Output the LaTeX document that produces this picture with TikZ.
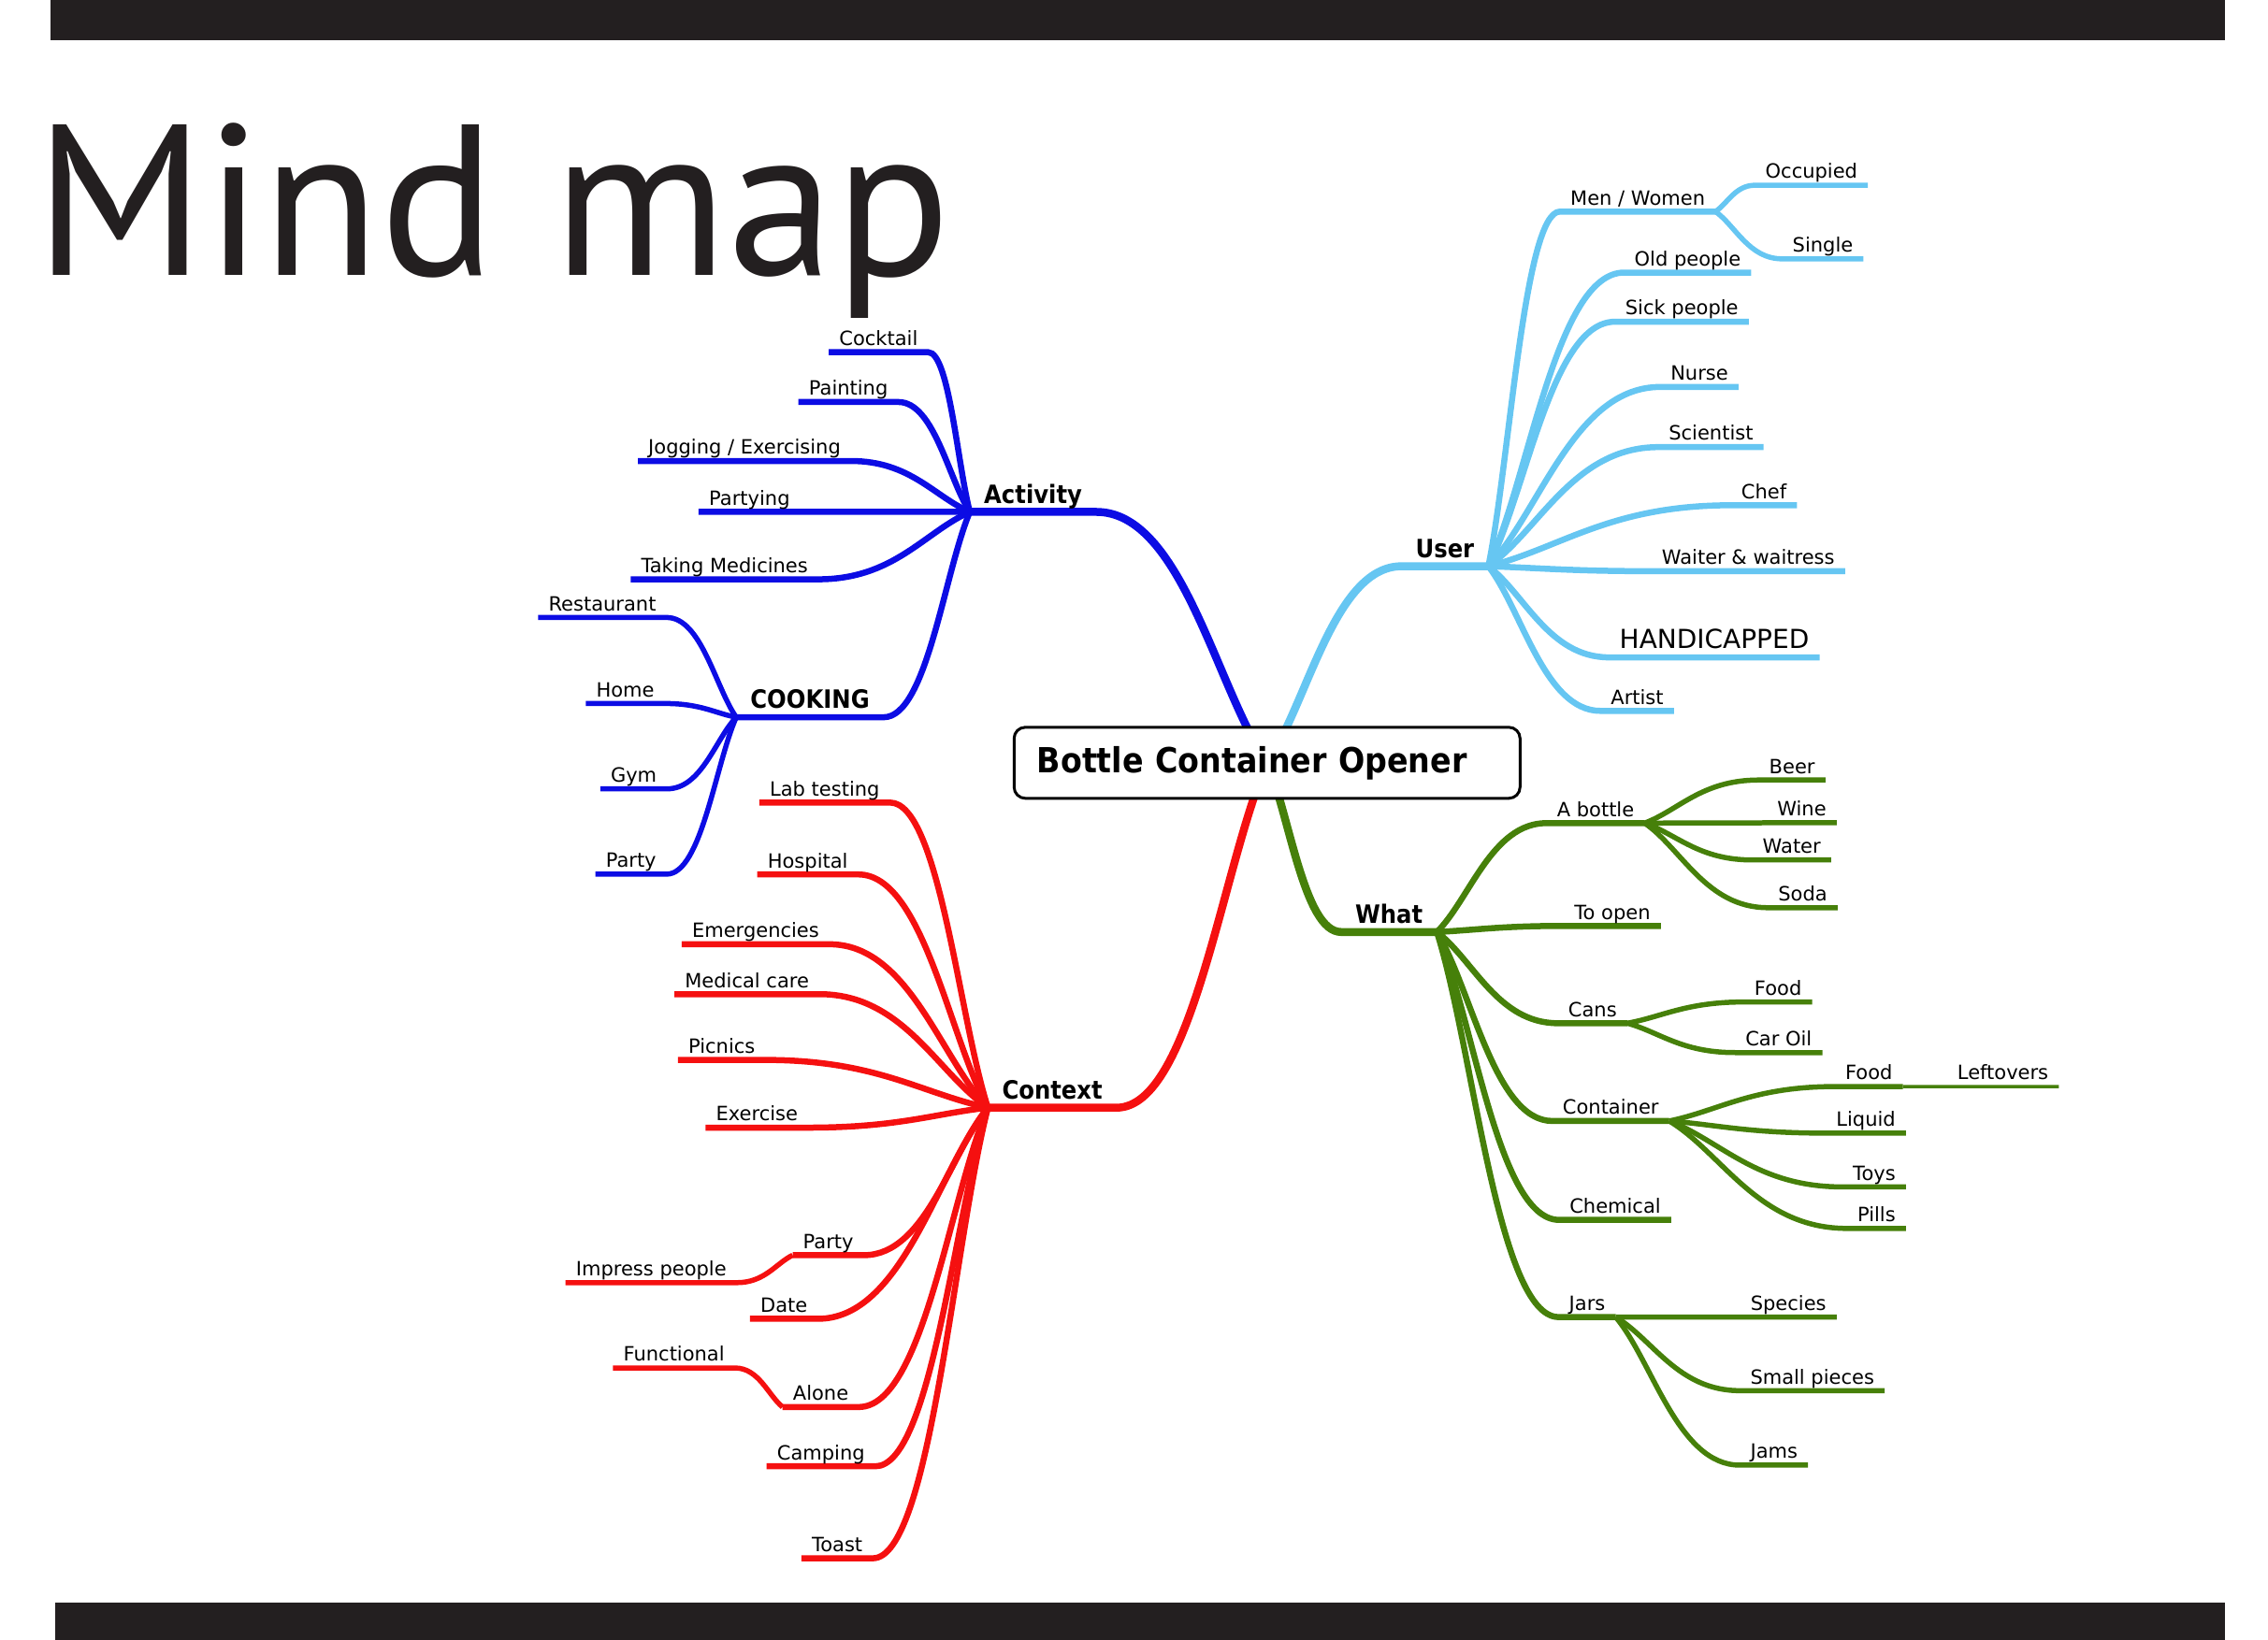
\documentclass[tikz,border=0pt]{standalone}
\usepackage{fontspec}
\setmainfont{DejaVu Sans}
\newfontfamily\hubfont{DejaVu Sans}[FakeStretch=0.9]
\newfontfamily\titlefont{PT Sans}
\usetikzlibrary{calc, backgrounds}

\definecolor{actblue}{RGB}{12,12,228}
\definecolor{ctxred}{RGB}{245,16,16}
\definecolor{userblue}{RGB}{102,198,242}
\definecolor{whatgreen}{RGB}{70,128,10}
\definecolor{barblack}{RGB}{35,31,32}

\begin{document}
\begin{tikzpicture}[
  x=1.5466pt, y=-1.5466pt,
  mainbox/.style={draw, line width=3pt, rounded corners=12pt, fill=white,
                  text width=492pt, align=left, inner xsep=24.5pt,
                  minimum height=76pt,
                  font=\hubfont\bfseries\fontsize{37}{44}\selectfont},
  hub/.style={font=\hubfont\bfseries\fontsize{27}{32}\selectfont,
              inner xsep=15pt, inner ysep=9pt, text depth=0pt},
  leaf/.style={font=\fontsize{21}{25}\selectfont,
               inner xsep=11pt, inner ysep=7pt, text depth=0pt},
  lside/.style={anchor=south west},
  rside/.style={anchor=south east},
  trunkline/.style={line width=8.5pt},
  leafline/.style={line width=6.5pt},
  subline/.style={line width=5.5pt},
  thinline/.style={line width=3.5pt},
  bough/.style={to path={let \p1=(\tikztostart), \p2=(\tikztotarget) in
    .. controls ($(\p1)!0.3!(\p2)$) and ({(\x1+\x2)/2},\y2) .. (\p2) \tikztonodes}}
]
\useasboundingbox (0,0) rectangle (1568,1134);

% bars and title
\fill[barblack] (35,0) rectangle (1538,28);
\fill[barblack] (38,1108) rectangle (1538,1134);
\node[anchor=base west, inner sep=0pt, text=barblack,
      font=\titlefont\fontsize{230}{230}\selectfont] (title) at (24,190.7) {Mind map};

% centre
\node[mainbox] (box) at (876,527.5) {Bottle Container Opener};

% Activity
\node[hub, lside] (act) at (670.5,354) {Activity};
\node[leaf, lside] (cocktail) at (573,243.6) {Cocktail};
\node[leaf, lside] (painting) at (552,278) {Painting};
\node[leaf, lside] (jogging) at (441,318.8) {Jogging / Exercising};
\node[leaf, lside] (partying) at (483,354) {Partying};
\node[leaf, lside] (medicines) at (436,400.6) {Taking Medicines};
\node[hub, lside] (cooking) at (509,496) {COOKING};
\node[leaf, lside] (restaurant) at (372,427) {Restaurant};
\node[leaf, lside] (home) at (405,486.5) {Home};
\node[leaf, lside] (gym) at (415,545.5) {Gym};
\node[leaf, lside] (cookparty) at (411.6,604.5) {Party};

% Context
\node[hub, lside] (ctx) at (683,766) {Context};
\node[leaf, lside] (lab) at (525,555) {Lab testing};
\node[leaf, lside] (hospital) at (523.5,604.7) {Hospital};
\node[leaf, lside] (emerg) at (471.3,653) {Emergencies};
\node[leaf, lside] (medcare) at (466.3,687.5) {Medical care};
\node[leaf, lside] (picnics) at (468.7,733) {Picnics};
\node[leaf, lside] (exercise) at (487.8,779.8) {Exercise};
\node[leaf, lside] (ctxparty) at (548,868) {Party};
\node[leaf, lside] (impress) at (391,887) {Impress people};
\node[leaf, lside] (date) at (518.5,912) {Date};
\node[leaf, lside] (alone) at (541,973) {Alone};
\node[leaf, lside] (functional) at (423.8,946) {Functional};
\node[leaf, lside] (camping) at (530,1014) {Camping};
\node[leaf, lside] (toast) at (554,1077.6) {Toast};

% User
\node[hub, rside] (user) at (1029,391.6) {User};
\node[leaf, rside] (menwomen) at (1186,146.3) {Men / Women};
\node[leaf, rside] (occupied) at (1291.4,128.1) {Occupied};
\node[leaf, rside] (single) at (1288.3,179) {Single};
\node[leaf, rside] (oldpeople) at (1210.7,188.5) {Old people};
\node[leaf, rside] (sick) at (1209,222.5) {Sick people};
\node[leaf, rside] (nurse) at (1202,267.6) {Nurse};
\node[leaf, rside] (scientist) at (1219.3,309.2) {Scientist};
\node[leaf, rside] (chef) at (1242.4,349.4) {Chef};
\node[leaf, rside] (waiter) at (1275.6,395) {Waiter \& waitress};
\node[leaf, rside, font=\fontsize{28}{32}\selectfont, inner ysep=9pt] (handicapped) at (1258,454.6) {HANDICAPPED};
\node[leaf, rside] (artist) at (1157.3,491.6) {Artist};

% What
\node[hub, rside] (what) at (993.4,644.5) {What};
\node[leaf, rside] (bottle) at (1137,569.2) {A bottle};
\node[leaf, rside] (beer) at (1262,539.4) {Beer};
\node[leaf, rside] (wine) at (1269.8,569) {Wine};
\node[leaf, rside] (water) at (1266,594.7) {Water};
\node[leaf, rside] (soda) at (1270.5,627.7) {Soda};
\node[leaf, rside] (toopen) at (1148.2,640.3) {To open};
\node[leaf, rside] (cans) at (1125,707.6) {Cans};
\node[leaf, rside] (canfood) at (1252.8,692.9) {Food};
\node[leaf, rside] (caroil) at (1259.9,727.9) {Car Oil};
\node[leaf, rside] (container) at (1154,775.2) {Container};
\node[leaf, rside] (boxfood) at (1315.6,751.4) {Food};
\node[leaf, rside] (leftovers) at (1423.4,751.4) {Leftovers};
\node[leaf, rside] (liquid) at (1317.7,783.6) {Liquid};
\node[leaf, rside] (toys) at (1317.7,820.8) {Toys};
\node[leaf, rside] (pills) at (1317.7,849.5) {Pills};
\node[leaf, rside] (chemical) at (1155.4,843.6) {Chemical};
\node[leaf, rside] (jars) at (1117,910.8) {Jars};
\node[leaf, rside] (species) at (1269.8,910.8) {Species};
\node[leaf, rside] (smallpieces) at (1303,961.7) {Small pieces};
\node[leaf, rside] (jams) at (1250,1013.2) {Jams};

\begin{scope}[on background layer, line cap=round, line join=round]
% blue branches
\draw[actblue, trunkline] (box.center) to[bough] (act.south east) -- (act.south west);
\draw[actblue, leafline] (act.south west) to[bough] (cocktail.south east) -- (cocktail.south west);
\draw[actblue, leafline] (act.south west) to[bough] (painting.south east) -- (painting.south west);
\draw[actblue, leafline] (act.south west) to[bough] (jogging.south east) -- (jogging.south west);
\draw[actblue, leafline] (act.south west) to[bough] (partying.south east) -- (partying.south west);
\draw[actblue, leafline] (act.south west) to[bough] (medicines.south east) -- (medicines.south west);
\draw[actblue, leafline] (act.south west) to[bough] (cooking.south east) -- (cooking.south west);
\draw[actblue, subline] (cooking.south west) to[bough] (restaurant.south east) -- (restaurant.south west);
\draw[actblue, subline] (cooking.south west) to[bough] (home.south east) -- (home.south west);
\draw[actblue, subline] (cooking.south west) to[bough] (gym.south east) -- (gym.south west);
\draw[actblue, subline] (cooking.south west) to[bough] (cookparty.south east) -- (cookparty.south west);

% red branches
\draw[ctxred, trunkline] (box.center) to[bough] (ctx.south east) -- (ctx.south west);
\draw[ctxred, leafline] (ctx.south west) to[bough] (lab.south east) -- (lab.south west);
\draw[ctxred, leafline] (ctx.south west) to[bough] (hospital.south east) -- (hospital.south west);
\draw[ctxred, leafline] (ctx.south west) to[bough] (emerg.south east) -- (emerg.south west);
\draw[ctxred, leafline] (ctx.south west) to[bough] (medcare.south east) -- (medcare.south west);
\draw[ctxred, leafline] (ctx.south west) to[bough] (picnics.south east) -- (picnics.south west);
\draw[ctxred, leafline] (ctx.south west) to[bough] (exercise.south east) -- (exercise.south west);
\draw[ctxred, leafline] (ctx.south west) to[bough] (ctxparty.south east) -- (ctxparty.south west);
\draw[ctxred, leafline] (ctx.south west) to[bough] (date.south east) -- (date.south west);
\draw[ctxred, leafline] (ctx.south west) to[bough] (alone.south east) -- (alone.south west);
\draw[ctxred, leafline] (ctx.south west) to[bough] (camping.south east) -- (camping.south west);
\draw[ctxred, leafline] (ctx.south west) to[bough] (toast.south east) -- (toast.south west);
\draw[ctxred, subline] (ctxparty.south west) to[bough] (impress.south east) -- (impress.south west);
\draw[ctxred, subline] (alone.south west) to[bough] (functional.south east) -- (functional.south west);

% light blue branches
\draw[userblue, trunkline] (box.center) to[bough] (user.south west) -- (user.south east);
\draw[userblue, leafline] (user.south east) to[bough] (menwomen.south west) -- (menwomen.south east);
\draw[userblue, leafline] (user.south east) to[bough] (oldpeople.south west) -- (oldpeople.south east);
\draw[userblue, leafline] (user.south east) to[bough] (sick.south west) -- (sick.south east);
\draw[userblue, leafline] (user.south east) to[bough] (nurse.south west) -- (nurse.south east);
\draw[userblue, leafline] (user.south east) to[bough] (scientist.south west) -- (scientist.south east);
\draw[userblue, leafline] (user.south east) to[bough] (chef.south west) -- (chef.south east);
\draw[userblue, leafline] (user.south east) to[bough] (waiter.south west) -- (waiter.south east);
\draw[userblue, leafline] (user.south east) to[bough] (handicapped.south west) -- (handicapped.south east);
\draw[userblue, leafline] (user.south east) to[bough] (artist.south west) -- (artist.south east);
\draw[userblue, subline] (menwomen.south east) to[bough] (occupied.south west) -- (occupied.south east);
\draw[userblue, subline] (menwomen.south east) to[bough] (single.south west) -- (single.south east);

% green branches
\draw[whatgreen, trunkline] (box.center) to[bough] (what.south west) -- (what.south east);
\draw[whatgreen, leafline] (what.south east) to[bough] (bottle.south west) -- (bottle.south east);
\draw[whatgreen, leafline] (what.south east) to[bough] (toopen.south west) -- (toopen.south east);
\draw[whatgreen, leafline] (what.south east) to[bough] (cans.south west) -- (cans.south east);
\draw[whatgreen, leafline] (what.south east) to[bough] (container.south west) -- (container.south east);
\draw[whatgreen, leafline] (what.south east) to[bough] (chemical.south west) -- (chemical.south east);
\draw[whatgreen, leafline] (what.south east) to[bough] (jars.south west) -- (jars.south east);
\draw[whatgreen, subline] (bottle.south east) to[bough] (beer.south west) -- (beer.south east);
\draw[whatgreen, subline] (bottle.south east) to[bough] (wine.south west) -- (wine.south east);
\draw[whatgreen, subline] (bottle.south east) to[bough] (water.south west) -- (water.south east);
\draw[whatgreen, subline] (bottle.south east) to[bough] (soda.south west) -- (soda.south east);
\draw[whatgreen, subline] (cans.south east) to[bough] (canfood.south west) -- (canfood.south east);
\draw[whatgreen, subline] (cans.south east) to[bough] (caroil.south west) -- (caroil.south east);
\draw[whatgreen, subline] (container.south east) to[bough] (boxfood.south west) -- (boxfood.south east);
\draw[whatgreen, subline] (container.south east) to[bough] (liquid.south west) -- (liquid.south east);
\draw[whatgreen, subline] (container.south east) to[bough] (toys.south west) -- (toys.south east);
\draw[whatgreen, subline] (container.south east) to[bough] (pills.south west) -- (pills.south east);
\draw[whatgreen, thinline] (boxfood.south east) to[bough] (leftovers.south west) -- (leftovers.south east);
\draw[whatgreen, subline] (jars.south east) to[bough] (species.south west) -- (species.south east);
\draw[whatgreen, subline] (jars.south east) to[bough] (smallpieces.south west) -- (smallpieces.south east);
\draw[whatgreen, subline] (jars.south east) to[bough] (jams.south west) -- (jams.south east);
\end{scope}
\end{tikzpicture}
\end{document}
